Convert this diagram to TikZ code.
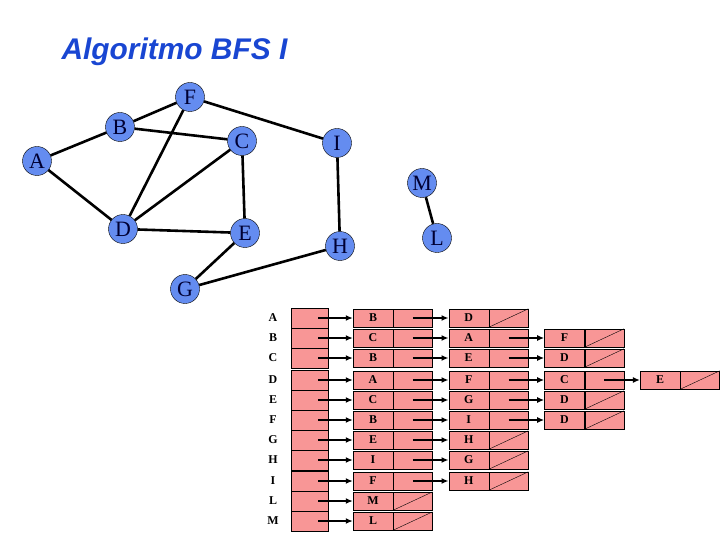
\documentclass[tikz,border=0pt]{standalone}
\usepackage{fontspec}
\setmainfont{Liberation Serif}
\newfontfamily\titlefont{Liberation Sans}
\usetikzlibrary{positioning}
\usetikzlibrary{arrows.meta}
\definecolor{vblue}{RGB}{100,140,240}
\definecolor{cellred}{RGB}{248,150,150}
\definecolor{titleblue}{RGB}{25,70,210}
\begin{document}
\begin{tikzpicture}[x=1bp, y=-1bp,
        vertex/.style={circle, draw, fill=vblue, inner sep=0pt, minimum size=29bp, font=\fontsize{22}{22}\selectfont, text=black!80!blue},
        edge/.style={line width=2.6bp},
        head/.style={draw, fill=cellred, minimum width=37bp, minimum height=20bp, inner sep=0pt},
        cell/.style={draw, fill=cellred, minimum height=18bp, inner sep=0pt, font=\bfseries\fontsize{12}{12}\selectfont},
        lbl/.style={font=\bfseries\fontsize{12}{12}\selectfont},
        arrow/.style={line width=1.6bp, ->, >={Latex[length=7bp,width=6bp]}}
    ]
        \useasboundingbox (0,0) rectangle (720,540);
        \node[font=\titlefont\bfseries\itshape\fontsize{30}{30}\selectfont, text=titleblue, anchor=west] (title) at (58,52) {Algoritmo BFS I};

        % graph
        \node[vertex] (F) at (190,97) {F};
        \node[vertex] (B) at (120,127) {B};
        \node[vertex] (C) at (242,141) {C};
        \node[vertex] (A) at (37,161) {A};
        \node[vertex] (I) at (337,143) {I};
        \node[vertex] (M) at (422,183) {M};
        \node[vertex] (D) at (123,229) {D};
        \node[vertex] (E) at (245,233) {E};
        \node[vertex] (H) at (340,246) {H};
        \node[vertex] (L) at (437,238) {L};
        \node[vertex] (G) at (185,289) {G};

        \foreach \u/\v in {A/B, A/D, B/F, B/C, F/D, F/I, C/D, C/E, D/E, E/G, G/H, I/H, M/L}
            \draw[edge] (\u) -- (\v);

        % adjacency lists
        \foreach \r/\y/\n/\lst in {A/318/2/{B,D}, B/338/3/{C,A,F}, C/358/3/{B,E,D},
                D/380/4/{A,F,C,E}, E/400/3/{C,G,D}, F/420/3/{B,I,D}, G/440/2/{E,H},
                H/460/2/{I,G}, I/481/2/{F,H}, L/501/1/{M}, M/521/1/{L}} {
            \node[lbl] (t-\r) at (273,\y) {\r};
            \node[head] (h-\r) at (310,\y) {};
            \foreach \v [count=\i] in \lst {
                \pgfmathsetmacro\xd{373+95.7*(\i-1)}
                \node[cell, minimum width=40bp] (d-\r-\i) at (\xd,\y) {\v};
                \node[cell, minimum width=39bp, right=0pt of d-\r-\i] (p-\r-\i) {};
                \ifnum\i=\n
                    \draw (p-\r-\i.south west) -- (p-\r-\i.north east);
                \fi
                \ifnum\i>1
                    \pgfmathtruncatemacro\j{\i-1}
                    \draw[arrow] (p-\r-\j.center) -- (d-\r-\i.west);
                \fi
            }
            \draw[arrow] ([xshift=8bp]h-\r.center) -- (d-\r-1.west);
        }
    \end{tikzpicture}
\end{document}
